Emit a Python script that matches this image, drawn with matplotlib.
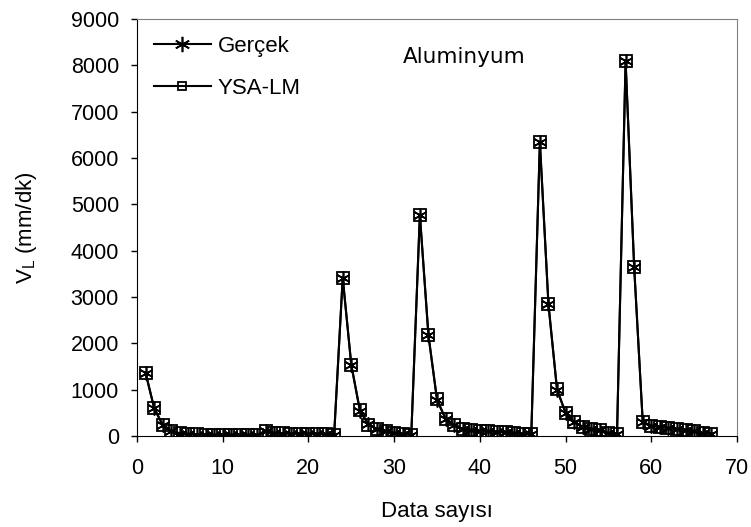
import matplotlib
matplotlib.use("Agg")
import matplotlib.pyplot as plt

plt.rcParams['font.family'] = ['Liberation Sans', 'DejaVu Sans']

# data index 1..67
data_no = list(range(1, 68))

gercek = [1370, 600, 230, 100, 50, 40, 30, 30, 20, 20,
          20, 20, 20, 20, 100, 60, 50, 50, 50, 50,
          50, 40, 20, 3420, 1530, 550, 250, 150, 100, 60,
          40, 30, 4780, 2180, 780, 370, 230, 150, 120, 100,
          100, 90, 80, 60, 50, 40, 6350, 2850, 1000, 500,
          300, 200, 150, 120, 60, 40, 8100, 3650, 300, 220,
          200, 170, 150, 130, 100, 60, 50]

ysa_lm = [1360, 610, 240, 110, 60, 40, 35, 30, 25, 20,
          25, 20, 20, 25, 110, 60, 55, 50, 50, 50,
          45, 40, 25, 3410, 1540, 560, 245, 155, 100, 65,
          45, 30, 4770, 2170, 790, 365, 235, 150, 125, 100,
          100, 95, 80, 60, 50, 45, 6340, 2840, 1010, 495,
          305, 200, 150, 125, 60, 45, 8090, 3640, 305, 220,
          200, 175, 150, 130, 100, 65, 50]

fig = plt.figure(figsize=(7.51, 5.27), dpi=100)
ax = fig.add_axes([0.1824, 0.1727, 0.799, 0.791])

ax.plot(data_no, gercek, color='black', lw=1.5, marker=(6, 2, 0),
        ms=10, mew=1.2, label='Gerçek')
ax.plot(data_no, ysa_lm, color='black', lw=1.5, marker='s', ms=9,
        mfc='none', mec='black', mew=1.3, label='YSA-LM')

ax.set_xlim(0, 70)
ax.set_ylim(0, 9000)
ax.set_xticks(range(0, 71, 10))
ax.set_yticks(range(0, 9001, 1000))
ax.tick_params(direction='out', labelsize=15.5, length=4, width=1)
ax.tick_params(axis='y', pad=9)
ax.tick_params(axis='x', pad=12)
ax.set_xlabel('Data sayısı', fontsize=16, labelpad=16)
ax.set_ylabel('V$_\\mathregular{L}$ (mm/dk)', fontsize=16, labelpad=23)

for s in ['top', 'right']:
    ax.spines[s].set_color('#808080')

ax.text(38.2, 8180, 'Aluminyum', fontsize=15.5, family='DejaVu Sans',
        ha='center', va='center')
leg = ax.legend(loc='upper left', frameon=False, fontsize=16,
                handlelength=2.57, borderaxespad=0.35, labelspacing=0.95,
                handletextpad=0.3)
leg.legend_handles[0].set_markersize(11)
leg.legend_handles[1].set_markersize(6)

fig.savefig('out.png', dpi=100)
